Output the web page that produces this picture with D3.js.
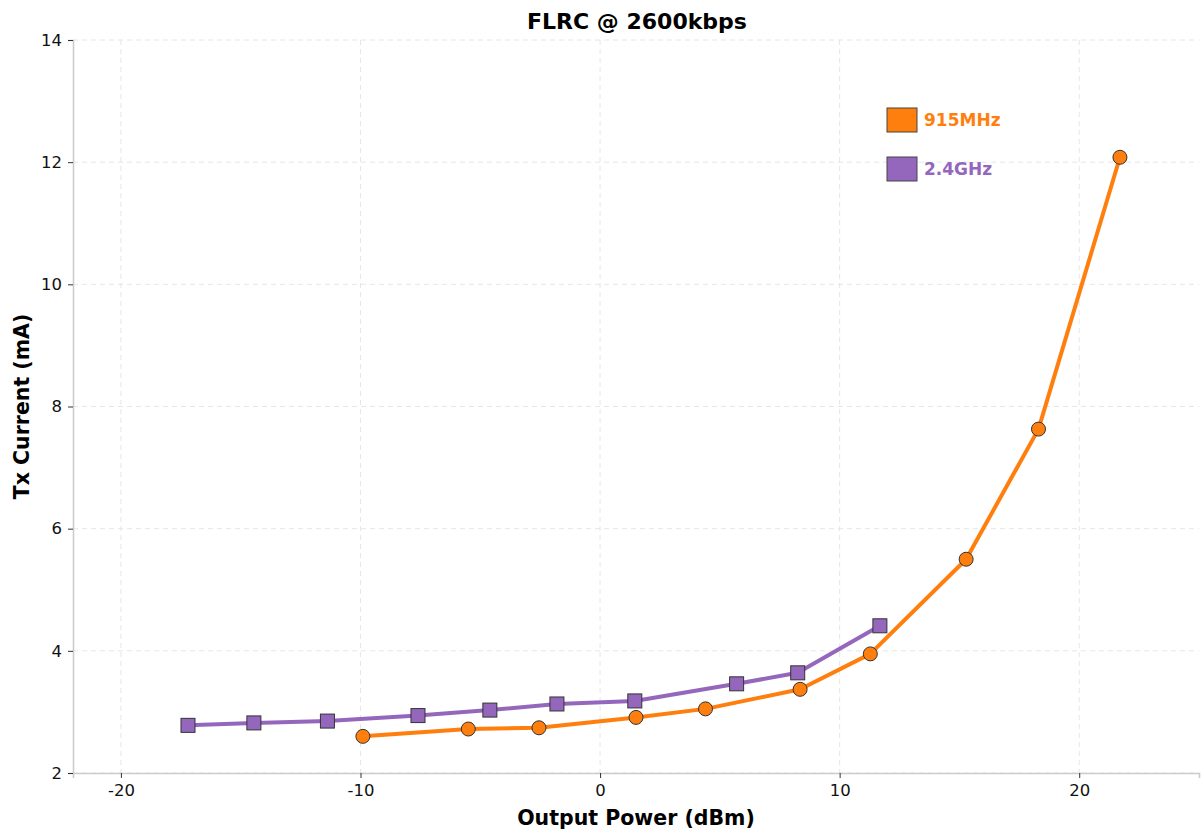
<!DOCTYPE html>
<html><head><meta charset="utf-8">
<script src="https://cdn.jsdelivr.net/npm/d3@7"></script>
<style>body{margin:0;background:#fff;font-family:"DejaVu Sans",sans-serif;}</style>
</head><body><svg id="c" width="1203" height="832"></svg>
<script>
const xTicks = [-20, -10, 0, 10, 20];
const yTicks = [2, 4, 6, 8, 10, 12, 14];
const s915x = [-9.9, -5.5, -2.55, 1.5, 4.4, 8.35, 11.28, 15.28, 18.3, 21.7];
const s915y = [2.6, 2.72, 2.74, 2.91, 3.05, 3.37, 3.95, 5.5, 7.63, 12.08];
const s24x = [-17.2, -14.45, -11.38, -7.6, -4.6, -1.8, 1.45, 5.7, 8.25, 11.68];
const s24y = [2.78, 2.82, 2.85, 2.94, 3.03, 3.13, 3.18, 3.46, 3.64, 4.41];
const seriesNames = ["915MHz", "2.4GHz"];
const colors = ["#ff7f0e", "#9467bd"];

const svg = d3.select("#c");
const m = {l:73, r:4, t:40, b:59};
const W = 1203, H = 832;
const x = d3.scaleLinear().domain([-22, 25]).range([m.l, W - m.r]);
const y = d3.scaleLinear().domain([2, 14]).range([H - m.b, m.t]);

// grid
const g = svg.append("g");
g.selectAll(".gx").data(xTicks).join("line")
  .attr("x1", d => x(d)).attr("x2", d => x(d)).attr("y1", y(14)).attr("y2", y(2))
  .attr("stroke", "#e6e6e6").attr("stroke-dasharray", "5,4").attr("stroke-width", 1);
g.selectAll(".gy").data(yTicks).join("line")
  .attr("x1", x(-22)).attr("x2", x(25)).attr("y1", d => y(d)).attr("y2", d => y(d))
  .attr("stroke", "#e6e6e6").attr("stroke-dasharray", "5,4").attr("stroke-width", 1);

// axes
const xa = svg.append("g").attr("transform", `translate(0,${y(2)})`)
  .call(d3.axisBottom(x).tickValues(xTicks).tickSize(5).tickPadding(6).tickFormat(d3.format("d")));
const ya = svg.append("g").attr("transform", `translate(${x(-22)},0)`)
  .call(d3.axisLeft(y).tickValues(yTicks).tickSize(5).tickPadding(6).tickFormat(d3.format("d")));
[xa, ya].forEach(a => {
  a.select(".domain").attr("stroke", "#cccccc").attr("stroke-width", 1.6);
  a.selectAll(".tick line").attr("stroke", "#333");
  a.selectAll(".tick text").attr("font-family", "DejaVu Sans").attr("font-size", 16.5).attr("fill", "#111");
});
xa.selectAll(".tick text").text(d => d < 0 ? "-" + Math.abs(d) : d);

// lines
const series = [
  {x: s915x, y: s915y, c: colors[0], shape: "circle"},
  {x: s24x, y: s24y, c: colors[1], shape: "square"}
];
const line = d3.line().x(d => x(d[0])).y(d => y(d[1]));
series.forEach(s => {
  const pts = s.x.map((v, i) => [v, s.y[i]]);
  svg.append("path").datum(pts).attr("d", line).attr("fill", "none")
    .attr("stroke", s.c).attr("stroke-width", 4).attr("stroke-linejoin", "round").attr("stroke-linecap", "round");
  if (s.shape === "circle") {
    svg.selectAll(null).data(pts).join("circle")
      .attr("cx", d => x(d[0])).attr("cy", d => y(d[1])).attr("r", 7)
      .attr("fill", s.c).attr("stroke", "#333").attr("stroke-width", 1);
  } else {
    svg.selectAll(null).data(pts).join("rect")
      .attr("x", d => x(d[0]) - 7).attr("y", d => y(d[1]) - 7).attr("width", 14).attr("height", 14)
      .attr("fill", s.c).attr("stroke", "#333").attr("stroke-width", 1);
  }
});

// legend
seriesNames.forEach((n, i) => {
  const ly = 108 + i * 49;
  svg.append("rect").attr("x", 887).attr("y", ly).attr("width", 30).attr("height", 24)
    .attr("fill", colors[i]).attr("stroke", "#444").attr("stroke-width", 1);
  svg.append("text").attr("x", 924).attr("y", ly + 18).text(n)
    .attr("font-family", "DejaVu Sans").attr("font-weight", "bold").attr("font-size", 17).attr("fill", colors[i]);
});

// titles
svg.append("text").attr("x", 637).attr("y", 29).attr("text-anchor", "middle")
  .attr("font-family", "DejaVu Sans").attr("font-weight", "bold").attr("font-size", 22).text("FLRC @ 2600kbps");
svg.append("text").attr("x", 636).attr("y", 825).attr("text-anchor", "middle")
  .attr("font-family", "DejaVu Sans").attr("font-weight", "bold").attr("font-size", 20.5).text("Output Power (dBm)");
svg.append("text").attr("transform", `translate(29,${(m.t + H - m.b) / 2}) rotate(-90)`).attr("text-anchor", "middle")
  .attr("font-family", "DejaVu Sans").attr("font-weight", "bold").attr("font-size", 20.5).text("Tx Current (mA)");
</script></body></html>
